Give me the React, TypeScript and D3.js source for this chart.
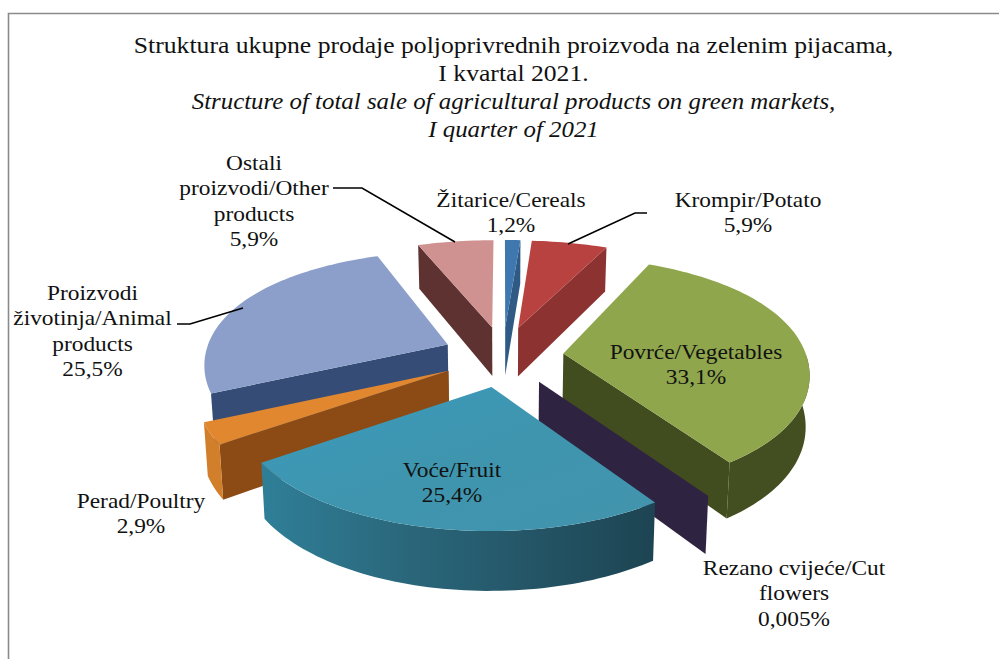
import React from "react";
import * as d3 from "d3";

const categories = ["Žitarice/Cereals", "Krompir/Potato", "Povrće/Vegetables", "Rezano cvijeće/Cut flowers", "Voće/Fruit", "Perad/Poultry", "Proizvodi životinja/Animal products", "Ostali proizvodi/Other products"];
const values = [1.2, 5.9, 33.1, 0.005, 25.4, 2.9, 25.5, 5.9];
const topColors = ["#3f78ae", "#b8423f", "#8fa64c", "#2f2549", "#3f95ae", "#e0872f", "#8b9fca", "#cf9291"];
const wallColors = ["#2e5a85", "#8c3331", "#414c1f", "#2f2342", "#1e4b5c", "#8c4a14", "#354d76", "#5f3232"];
const arcColors = ["#2e5a85", "#8c3331", "#434f20", "#2f2342", "#2a6a80", "#d27f2c", "", "#5f3232"];
const paintOrder = [7, 0, 1, 2, 3, 6, 5, 4];

const titleLines = [
  { text: "Struktura ukupne prodaje poljoprivrednih proizvoda na zelenim pijacama,", italic: false, y: 53 },
  { text: "I kvartal 2021.", italic: false, y: 81 },
  { text: "Structure of total sale of agricultural products on green markets,", italic: true, y: 109 },
  { text: "I quarter of 2021", italic: true, y: 137 },
];
const labelBlocks = [
  { lines: ["Ostali", "proizvodi/Other", "products", "5,9%"], x: 254, y: 170 },
  { lines: ["Žitarice/Cereals", "1,2%"], x: 511, y: 207 },
  { lines: ["Krompir/Potato", "5,9%"], x: 748, y: 207 },
  { lines: ["Povrće/Vegetables", "33,1%"], x: 696, y: 359 },
  { lines: ["Proizvodi", "životinja/Animal", "products", "25,5%"], x: 92.5, y: 300 },
  { lines: ["Voće/Fruit", "25,4%"], x: 452, y: 477 },
  { lines: ["Perad/Poultry", "2,9%"], x: 141, y: 508 },
  { lines: ["Rezano cvijeće/Cut", "flowers", "0,005%"], x: 794, y: 575 },
];
const leaders = [
  [[333, 188], [362, 188], [455, 242]],
  [[647, 213], [635, 213], [568, 244]],
  [[177, 324], [190, 324], [243, 308]],
];

const CX = 503, CY = 356, RX = 243, RY = 123, PX = 0.145, PY_BACK = 0.26, PY_FRONT = 0.1, DEPTH = 50, EXPLODE = 0.25;
const FONT = "'Liberation Serif', serif";

function project(X: number, Y: number): [number, number] {
  const py = Y > 0 ? PY_BACK : PY_FRONT;
  return [CX + (RX * X) / (1 + PX * Y), CY - (RY * Y) / (1 + py * Y)];
}
const down = (p: [number, number]): [number, number] => [
  CX + (p[0] - CX) * 0.987,
  p[1] + DEPTH + ((p[1] - CY) / 110) * 6.2,
];

export default function App() {
  const pie = d3.pie<number>().sort(null).startAngle(0).endAngle(2 * Math.PI);
  const arcs = pie(values);
  const line = d3.line();

  const shapes = paintOrder.map((i) => {
    const a = arcs[i];
    const mid = (a.startAngle + a.endAngle) / 2;
    const ox = EXPLODE * Math.sin(mid), oy = EXPLODE * Math.cos(mid);
    const pt = (t: number) => project(ox + Math.sin(t), oy + Math.cos(t));
    const apex = project(ox, oy);
    const n = Math.max(2, Math.ceil((a.endAngle - a.startAngle) * 40));
    const samples = d3.range(n + 1).map((k) => a.startAngle + ((a.endAngle - a.startAngle) * k) / n);
    const rim = samples.map(pt);
    const top = line([apex, ...rim])! + "Z";
    const parts: { d: string; fill: string }[] = [];
    const wall = (t: number) => {
      const p = pt(t);
      return line([apex, p, down(p), down(apex)])! + "Z";
    };
    if (Math.sin(a.startAngle) < 0) parts.push({ d: wall(a.startAngle), fill: wallColors[i] });
    if (Math.sin(a.endAngle) > 0) parts.push({ d: wall(a.endAngle), fill: wallColors[i] });
    const front = samples.filter((t) => Math.cos(t) < 0).map(pt);
    if (front.length > 1 && arcColors[i]) {
      parts.push({ d: line([...front, ...front.slice().reverse().map(down)])! + "Z", fill: i === 4 ? "url(#fruitWall)" : arcColors[i] });
    }
    parts.push({ d: top, fill: i === 4 ? "url(#fruitTop)" : topColors[i] });
    return { i, parts };
  });

  return (
    <svg width={999} height={659} style={{ position: "absolute", left: 0, top: 0, background: "#fff" }} fontFamily={FONT}>
      <defs>
        <linearGradient id="fruitWall" x1="0" x2="1" y1="0" y2="0">
          <stop offset="0" stopColor="#2f7f98" />
          <stop offset="0.4" stopColor="#2a6579" />
          <stop offset="1" stopColor="#1d4452" />
        </linearGradient>
        <linearGradient id="fruitTop" x1="0" x2="1" y1="0" y2="1">
          <stop offset="0" stopColor="#3a9bbe" />
          <stop offset="0.5" stopColor="#3f95ae" />
          <stop offset="1" stopColor="#4394ad" />
        </linearGradient>
      </defs>
      <path d="M8.5 659V13.5H999" fill="none" stroke="#8a8a8a" strokeWidth={1.6} />
      {titleLines.map((t, i) => (
        <text key={i} transform={`translate(513.5,${t.y}) scale(${t.italic ? 1.058 : 1.092},1)`} textAnchor="middle" fontSize={23.5} fontStyle={t.italic ? "italic" : "normal"} fill="#111">
          {t.text}
        </text>
      ))}
      {shapes.map((s) => (
        <g key={s.i}>
          {s.parts.map((p, j) => (
            <path key={j} d={p.d} fill={p.fill} />
          ))}
        </g>
      ))}
      {leaders.map((l, i) => (
        <path key={i} d={d3.line()(l as [number, number][])!} fill="none" stroke="#000" strokeWidth={1.6} />
      ))}
      {labelBlocks.map((b, i) => (
        <g key={i}>
          {b.lines.map((l, j) => (
            <text key={j} transform={`translate(${b.x},${b.y + j * 25.4}) scale(1.088,1)`} textAnchor="middle" fontSize={21.5} fill="#111">{l}</text>
          ))}
        </g>
      ))}
    </svg>
  );
}
